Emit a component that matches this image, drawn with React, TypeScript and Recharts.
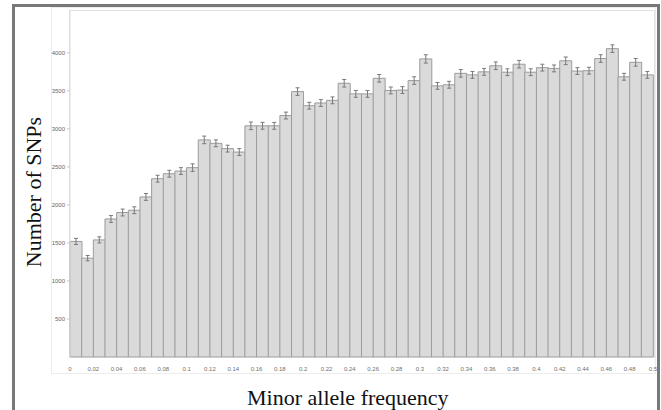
import { Bar, BarChart, ErrorBar, XAxis, YAxis } from 'recharts';

// bin start (minor allele frequency), one bar per 0.01 bin
const bins = [
  '0', '0.01', '0.02', '0.03', '0.04', '0.05', '0.06', '0.07', '0.08', '0.09',
  '0.1', '0.11', '0.12', '0.13', '0.14', '0.15', '0.16', '0.17', '0.18', '0.19',
  '0.2', '0.21', '0.22', '0.23', '0.24', '0.25', '0.26', '0.27', '0.28', '0.29',
  '0.3', '0.31', '0.32', '0.33', '0.34', '0.35', '0.36', '0.37', '0.38', '0.39',
  '0.4', '0.41', '0.42', '0.43', '0.44', '0.45', '0.46', '0.47', '0.48', '0.49',
];

const snpCounts = [
  1520, 1300, 1540, 1815, 1900, 1930, 2105, 2345, 2410, 2445,
  2490, 2855, 2810, 2740, 2695, 3040, 3040, 3040, 3175, 3490,
  3305, 3340, 3375, 3600, 3460, 3460, 3665, 3505, 3510, 3635,
  3920, 3565, 3580, 3730, 3710, 3750, 3830, 3745, 3850, 3745,
  3805, 3795, 3895, 3760, 3765, 3925, 4055, 3685, 3875, 3710,
];

const snpErrors = [
  40, 35, 40, 45, 45, 45, 45, 45, 45, 45,
  50, 50, 45, 45, 45, 50, 45, 45, 45, 50,
  45, 45, 45, 50, 45, 45, 50, 45, 45, 50,
  55, 45, 45, 50, 45, 45, 50, 45, 50, 45,
  45, 45, 50, 45, 45, 50, 50, 45, 50, 45,
];

const xTickLabels = [
  '0', '0.02', '0.04', '0.06', '0.08', '0.1', '0.12', '0.14', '0.16', '0.18',
  '0.2', '0.22', '0.24', '0.26', '0.28', '0.3', '0.32', '0.34', '0.36', '0.38',
  '0.4', '0.42', '0.44', '0.46', '0.48', '0.5',
];

const yTicks = [500, 1000, 1500, 2000, 2500, 3000, 3500, 4000];

const data = bins.map((bin, i) => ({ bin, count: snpCounts[i], err: snpErrors[i] }));

const WIDTH = 661;
const HEIGHT = 410;
const margin = { top: 11, right: 8, bottom: 39, left: 0 };
const Y_AXIS_W = 70;
const bandWidth = (WIDTH - margin.left - margin.right - Y_AXIS_W) / bins.length;

// labels sit on the bin edges, not the bar centres
function EdgeTick(props: any) {
  const { x, y, payload } = props;
  const i = payload.index;
  return (
    <g fontSize={6} fill="#707070" fontFamily="Liberation Sans">
      {i % 2 === 0 && (
        <text x={x - bandWidth / 2} y={y + 6} textAnchor="middle" fill="#707070">
          {xTickLabels[i / 2]}
        </text>
      )}
      {i === bins.length - 1 && (
        <text x={x + bandWidth / 2} y={y + 6} textAnchor="middle" fill="#707070">
          {xTickLabels[xTickLabels.length - 1]}
        </text>
      )}
    </g>
  );
}

export default function App() {
  return (
    <div
      style={{
        position: 'absolute',
        left: 0,
        top: 0,
        width: WIDTH,
        height: HEIGHT,
        overflow: 'hidden',
        background: '#fff',
      }}
    >
      <div
        style={{
          position: 'absolute',
          left: 12,
          top: 4,
          width: 648,
          height: 430,
          border: '3px solid #787878',
          boxSizing: 'border-box',
        }}
      />
      <div
        style={{
          position: 'absolute',
          left: 51,
          top: 7,
          width: 605,
          height: 367,
          border: '1px solid #ececec',
          boxSizing: 'border-box',
        }}
      />
      <div
        style={{
          position: 'absolute',
          left: 69,
          top: 10,
          width: 586,
          height: 348,
          border: '1px solid #e2e2e2',
          borderBottom: 'none',
          boxSizing: 'border-box',
        }}
      />
      <div style={{ position: 'absolute', left: 0, top: 0 }}>
        <BarChart width={WIDTH} height={HEIGHT} data={data} margin={margin} barCategoryGap={0}>
          <XAxis
            dataKey="bin"
            interval={0}
            height={14}
            axisLine={false}
            tickLine={false}
            tick={<EdgeTick />}
          />
          <YAxis
            width={Y_AXIS_W}
            domain={[0, 4550]}
            ticks={yTicks}
            interval={0}
            tickSize={3}
            tick={{ fontSize: 6, fill: '#666', fontFamily: 'Liberation Sans' }}
            tickLine={{ stroke: '#c8c8c8' }}
            axisLine={{ stroke: '#dcdcdc' }}
          />
          <Bar dataKey="count" fill="#dadada" stroke="#9c9c9c" strokeWidth={1} isAnimationActive={false}>
            <ErrorBar dataKey="err" width={2} stroke="#7a7a7a" strokeWidth={1} />
          </Bar>
        </BarChart>
      </div>
      <div
        style={{
          position: 'absolute',
          left: 247,
          top: 385,
          width: 200,
          textAlign: 'center',
          fontFamily: 'Liberation Serif',
          fontSize: 22,
          color: '#111',
          whiteSpace: 'nowrap',
        }}
      >
        Minor allele frequency
      </div>
      <div
        style={{
          position: 'absolute',
          left: 34,
          top: 192,
          transform: 'translate(-50%, -50%) rotate(-90deg)',
          fontFamily: 'Liberation Serif',
          fontSize: 22,
          color: '#111',
          whiteSpace: 'nowrap',
        }}
      >
        Number of SNPs
      </div>
    </div>
  );
}
